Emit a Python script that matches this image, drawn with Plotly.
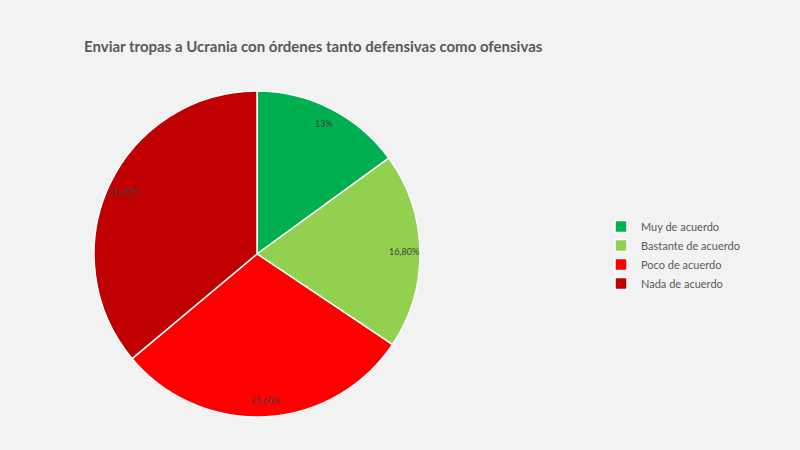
import numpy as np
import plotly.graph_objects as go

categories = ["Muy de acuerdo", "Bastante de acuerdo", "Poco de acuerdo", "Nada de acuerdo"]
values = [13.0, 16.8, 25.6, 31.3]
value_labels = ["13%", "16,80%", "25,60%", "31,30%"]
colors = ["#00b050", "#92d050", "#ff0000", "#c00000"]

W, H = 800, 450
BG = "#f2f2f2"
dom_x = [94 / W, 420 / W]
dom_y = [1 - 417 / H, 1 - 91 / H]

fig = go.Figure(go.Pie(
    labels=categories,
    values=values,
    sort=False,
    direction="clockwise",
    rotation=0,
    marker=dict(colors=colors, line=dict(color="white", width=1.5)),
    textinfo="none",
    hoverinfo="label+value",
    domain=dict(x=dom_x, y=dom_y),
))

# labels placed near the outer edge of each slice (like "inside end")
vals = np.array(values)
cum = np.cumsum(vals)
mid = (cum - vals / 2) / vals.sum() * 2 * np.pi
cx = (dom_x[0] + dom_x[1]) / 2 * W
cy = (1 - (dom_y[0] + dom_y[1]) / 2) * H
R = (dom_x[1] - dom_x[0]) * W / 2
for a, t in zip(mid, value_labels):
    px = cx + 0.9 * R * np.sin(a)
    py = cy - 0.9 * R * np.cos(a)
    fig.add_annotation(x=px / W, y=1 - py / H, xref="paper", yref="paper",
                       xanchor="center", yanchor="middle",
                       text=t, showarrow=False,
                       font=dict(size=9, color="#404040", family="Lato, sans-serif"))

fig.update_layout(
    width=W, height=H,
    paper_bgcolor=BG,
    plot_bgcolor=BG,
    margin=dict(l=0, r=0, t=0, b=0),
    title=dict(text="<b>Enviar tropas a Ucrania con órdenes tanto defensivas como ofensivas</b>",
               x=84 / W, xanchor="left", y=1 - 47 / H, yanchor="middle",
               font=dict(size=15, color="#595959", family="Lato, sans-serif")),
    legend=dict(x=601 / W, xanchor="left", y=1 - 255 / H, yanchor="middle",
                font=dict(size=11, color="#595959", family="Lato, sans-serif"),
                bgcolor="rgba(0,0,0,0)", itemwidth=30, tracegroupgap=0),
    showlegend=True,
)

fig.write_html(
    "out.html",
    config={"displayModeBar": False},
    post_script="document.body.style.margin='0';document.body.style.background='%s';" % BG,
)
